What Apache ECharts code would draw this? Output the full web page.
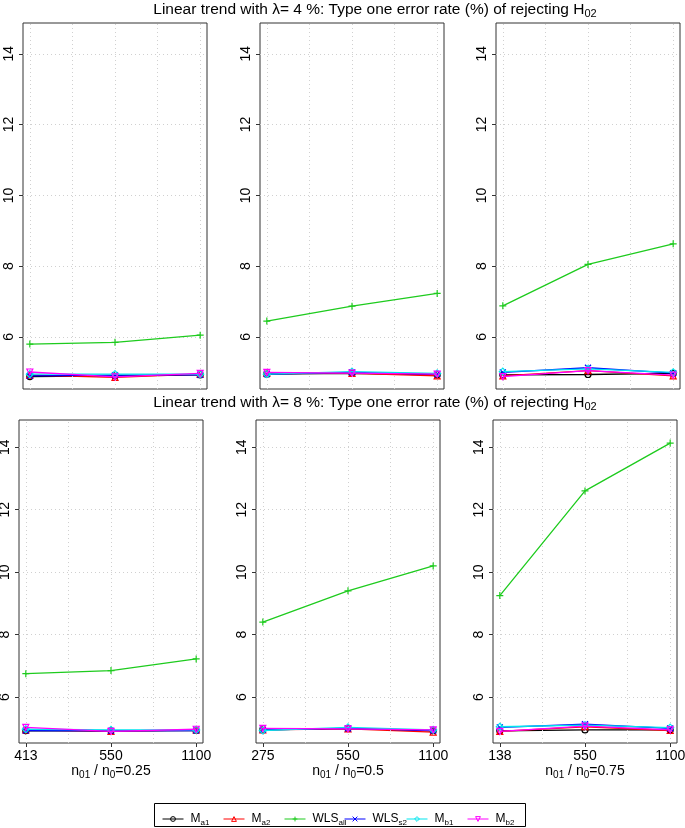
<!DOCTYPE html>
<html><head><meta charset="utf-8">
<script src="https://cdn.jsdelivr.net/npm/echarts@6/dist/echarts.min.js"></script>
<style>html,body{margin:0;padding:0;background:#fff}#c{width:685px;height:828px}</style>
</head><body><div id="c"></div>
<script>
// ---------- data ----------
const seriesNames = ['Ma1', 'Ma2', 'WLSall', 'WLSs2', 'Mb1', 'Mb2'];
const ratios = ['0.25', '0.5', '0.75'];
const xTickLabels025 = ['413', '550', '1100'];
const xTickLabels05 = ['275', '550', '1100'];
const xTickLabels075 = ['138', '550', '1100'];
const yTicks = [6, 8, 10, 12, 14];
const xGrid = [1, 1.5, 2, 2.5, 3];
const lambdas = ['4', '8'];

// lambda = 4 %, one row per ratio (0.25, 0.5, 0.75)
const Ma1_lam4 = [[4.88, 4.90, 4.93], [4.95, 4.97, 4.93], [4.93, 4.94, 4.97]];
const Ma2_lam4 = [[4.92, 4.86, 4.95], [4.98, 4.97, 4.90], [4.90, 5.05, 4.90]];
const WLSall_lam4 = [[5.80, 5.85, 6.05], [6.45, 6.87, 7.23], [6.88, 8.05, 8.63]];
const WLSs2_lam4 = [[4.90, 4.92, 4.93], [4.95, 5.00, 4.95], [5.00, 5.13, 4.98]];
const Mb1_lam4 = [[4.95, 4.95, 4.95], [4.95, 5.02, 4.97], [5.02, 5.10, 5.00]];
const Mb2_lam4 = [[5.01, 4.87, 4.97], [5.00, 4.98, 4.95], [4.88, 5.05, 4.92]];

// lambda = 8 %
const Ma1_lam8 = [[4.92, 4.92, 4.93], [4.95, 5.00, 4.92], [4.92, 4.95, 4.95]];
const Ma2_lam8 = [[4.95, 4.90, 4.95], [4.95, 4.98, 4.88], [4.90, 5.05, 4.93]];
const WLSall_lam8 = [[6.75, 6.85, 7.22], [8.40, 9.40, 10.20], [9.25, 12.60, 14.13]];
const WLSs2_lam8 = [[4.93, 4.92, 4.93], [4.95, 5.00, 4.93], [5.03, 5.13, 5.00]];
const Mb1_lam8 = [[4.97, 4.95, 4.95], [4.93, 5.03, 4.95], [5.05, 5.10, 5.02]];
const Mb2_lam8 = [[5.03, 4.90, 4.97], [5.00, 4.98, 4.95], [4.90, 5.07, 4.95]];

// ---------- assembly ----------
const xTickLabels = [xTickLabels025, xTickLabels05, xTickLabels075];
const valuesByLambda = [
  [Ma1_lam4, Ma2_lam4, WLSall_lam4, WLSs2_lam4, Mb1_lam4, Mb2_lam4],
  [Ma1_lam8, Ma2_lam8, WLSall_lam8, WLSs2_lam8, Mb1_lam8, Mb2_lam8]
];
const colors = ['#000000', '#ff0000', '#1ecb1e', '#0000ff', '#00e5ee', '#ff00ff'];
const symbols = ['circle', 'triangle', 'path://M5,0L5,10M0,5L10,5', 'path://M0,0L10,10M10,0L0,10', 'diamond', 'triangle'];
const symbolRot = [0, 0, 0, 0, 0, 180];
const symbolSizes = [6, 6, 7, 6, 7, 6];
const legendLabels = ['{m|M}{s|a1}', '{m|M}{s|a2}', '{m|WLS}{s|all}', '{m|WLS}{s|s2}', '{m|M}{s|b1}', '{m|M}{s|b2}'];

const FONT = 'Liberation Sans, Helvetica, Arial, sans-serif';
const rowTop = [23, 420];
const rowHeight = [366, 323];
const colLeft = [[23, 260, 496], [19, 256, 493]];
const colWidth = 184;
const yMin = 4.53, yMax = 14.87;

const grids = [], xAxes = [], yAxes = [], series = [];
let gi = 0;
for (let r = 0; r < 2; r++) {
  for (let c = 0; c < 3; c++) {
    grids.push({left: colLeft[r][c], top: rowTop[r], width: colWidth, height: rowHeight[r],
      show: true, borderColor: '#333', borderWidth: 1, backgroundColor: 'transparent',
      containLabel: false, outerBoundsMode: 'none'});
    const labs = xTickLabels[c];
    const xa = {
      type: 'value', gridIndex: gi, min: 0.92, max: 3.08,
      axisLine: {show: false}, splitLine: {show: false},
      axisTick: {show: r === 1, customValues: [1, 2, 3], length: 4, lineStyle: {color: '#333'}},
      axisLabel: {show: r === 1, customValues: [1, 2, 3], margin: 6, fontSize: 14, color: '#000', fontFamily: FONT,
        formatter: v => labs[Math.round(v) - 1]}
    };
    if (r === 1) {
      xa.name = '{m|n}{s|01}{m| / n}{s|0}{m|=' + ratios[c] + '}';
      xa.nameLocation = 'middle';
      xa.nameGap = 16;
      xa.nameTextStyle = {rich: {
        m: {fontSize: 14, fontFamily: FONT, color: '#000', lineHeight: 18},
        s: {fontSize: 10, fontFamily: FONT, color: '#000', lineHeight: 11, verticalAlign: 'bottom'}
      }};
    }
    xAxes.push(xa);
    yAxes.push({
      type: 'value', gridIndex: gi, min: yMin, max: yMax,
      axisLine: {show: false}, splitLine: {show: false},
      axisTick: {show: true, customValues: yTicks, length: 4, lineStyle: {color: '#333'}},
      axisLabel: {customValues: yTicks, rotate: 90, margin: 14, align: 'center', verticalAlign: 'middle',
        fontSize: 14, color: '#000', fontFamily: FONT}
    });
    // dotted reference grid
    series.push({
      type: 'line', name: 'grid' + gi, xAxisIndex: gi, yAxisIndex: gi, data: [], z: 1, silent: true,
      markLine: {silent: true, symbol: ['none', 'none'], animation: false, label: {show: false},
        lineStyle: {color: '#d0d0d0', type: [1, 3], width: 1},
        data: xGrid.map(v => ({xAxis: v})).concat(yTicks.map(v => ({yAxis: v})))}
    });
    for (let s = 0; s < seriesNames.length; s++) {
      const vals = valuesByLambda[r][s][c];
      series.push({
        type: 'line', name: seriesNames[s], xAxisIndex: gi, yAxisIndex: gi, z: 3 + s,
        data: vals.map((v, i) => [i + 1, v]),
        symbol: symbols[s], symbolSize: symbolSizes[s], symbolRotate: symbolRot[s], showAllSymbol: true,
        lineStyle: {color: colors[s], width: 1.3},
        itemStyle: {color: 'transparent', borderColor: colors[s], borderWidth: 1.2},
        emphasis: {disabled: true}
      });
    }
    gi++;
  }
}

const legendLefts = [157, 218, 279, 339, 401, 462];
const legends = seriesNames.map((n, i) => ({
  data: [n], left: legendLefts[i], top: 808, itemWidth: 21, itemHeight: 6, itemGap: 0,
  selectedMode: false,
  itemStyle: {color: 'transparent', borderColor: colors[i], borderWidth: 1},
  lineStyle: {color: colors[i], width: 1},
  formatter: () => legendLabels[i],
  textStyle: {padding: [0, 0, 0, 2], rich: {
    m: {fontSize: 12, fontFamily: FONT, color: '#000', lineHeight: 15},
    s: {fontSize: 8, fontFamily: FONT, color: '#000', lineHeight: 9, verticalAlign: 'bottom'}
  }}
}));

const titleRich = {
  t: {fontSize: 15.5, fontFamily: FONT, color: '#000', lineHeight: 19, fontWeight: 'normal'},
  s: {fontSize: 11, fontFamily: FONT, color: '#000', lineHeight: 12, verticalAlign: 'bottom', fontWeight: 'normal'}
};
const titles = lambdas.map((l, i) => ({
  text: '{t|Linear trend with \u03bb= ' + l + ' %: Type one error rate (%) of rejecting H}{s|02}',
  left: 375, textAlign: 'center', top: i === 0 ? 0 : 393, padding: 0,
  textStyle: {rich: titleRich}
}));

const chart = echarts.init(document.getElementById('c'), null, {renderer: 'canvas'});
chart.setOption({
  animation: false,
  backgroundColor: '#fff',
  title: titles,
  legend: legends,
  grid: grids,
  xAxis: xAxes,
  yAxis: yAxes,
  series: series,
  graphic: [{type: 'rect', shape: {x: 154.5, y: 803.5, width: 371, height: 23}, silent: true,
    style: {fill: 'none', stroke: '#000', lineWidth: 1}}]
});
</script></body></html>
